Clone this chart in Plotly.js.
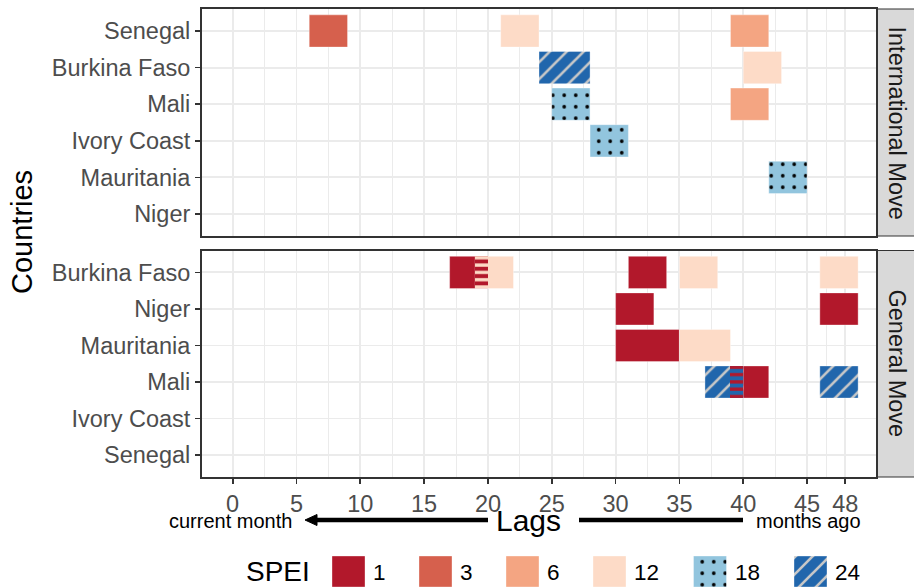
<!DOCTYPE html>
<html>
<head>
<meta charset="utf-8">
<script src="https://cdn.plot.ly/plotly-3.0.1.min.js"></script>
<style>html,body{margin:0;padding:0;background:#fff;} #chart{width:914px;height:588px;}</style>
</head>
<body>
<div id="chart"></div>
<script>
// ---------------- data ----------------
const countriesIntl = ['Senegal', 'Burkina Faso', 'Mali', 'Ivory Coast', 'Mauritania', 'Niger'];
const countriesGen  = ['Burkina Faso', 'Niger', 'Mauritania', 'Mali', 'Ivory Coast', 'Senegal'];
const panels = ['International Move', 'General Move'];

const tilePanel   = ['International Move','International Move','International Move','International Move','International Move','International Move','International Move','International Move','International Move',
                     'General Move','General Move','General Move','General Move','General Move','General Move','General Move','General Move','General Move','General Move','General Move','General Move'];
const tileCountry = ['Senegal','Senegal','Senegal','Burkina Faso','Burkina Faso','Mali','Mali','Ivory Coast','Mauritania',
                     'Burkina Faso','Burkina Faso','Burkina Faso','Burkina Faso','Burkina Faso','Niger','Niger','Mauritania','Mauritania','Mali','Mali','Mali'];
const tileSpei    = [3, 12, 6, 24, 12, 18, 6, 18, 18,
                     1, 12, 1, 12, 12, 1, 1, 1, 12, 24, 1, 24];
const tileStart   = [6, 21, 39, 24, 40, 25, 39, 28, 42,
                     17, 19, 31, 35, 46, 30, 46, 30, 35, 37, 39, 46];
const tileEnd     = [9, 24, 42, 28, 43, 28, 42, 31, 45,
                     20, 22, 34, 38, 49, 33, 49, 35, 39, 40, 42, 49];

const speiLevels = [1, 3, 6, 12, 18, 24];
const speiLabels = ['1', '3', '6', '12', '18', '24'];
const speiColors = ['#B2182B', '#D6604D', '#F4A582', '#FDDBC7', '#92C5DE', '#2166AC'];

const xTickVals = [0, 5, 10, 15, 20, 25, 30, 35, 40, 45, 48];
const xTickText = ['0', '5', '10', '15', '20', '25', '30', '35', '40', '45', '48'];
const xMinorVals = [2.5, 7.5, 12.5, 17.5, 22.5, 27.5, 32.5, 37.5, 42.5, 46.5];

// ---------------- geometry helpers ----------------
const L = 202, R = 876, T = 9, B = 588;
const fx = px => (px - L) / (R - L);
const fy = py => (B - py) / (B - T);

function patternFor(spei) {
  const c = speiColors[speiLevels.indexOf(spei)];
  if (spei === 18) return {shape: '.', fgcolor: '#000000', bgcolor: c, size: 11.5, solidity: 0.08, fillmode: 'replace'};
  if (spei === 24) return {shape: '/', fgcolor: '#C8C8C8', bgcolor: c, size: 12, solidity: 0.22, fillmode: 'replace'};
  return {shape: ''};
}

const traces = [];
const axisFor = {'International Move': ['x', 'y'], 'General Move': ['x2', 'y2']};

// main tiles grouped by panel + SPEI
panels.forEach(p => {
  speiLevels.forEach((s, si) => {
    const idx = tilePanel.map((v, i) => i).filter(i => tilePanel[i] === p && tileSpei[i] === s);
    if (!idx.length) return;
    traces.push({
      type: 'bar', orientation: 'h',
      xaxis: axisFor[p][0], yaxis: axisFor[p][1],
      y: idx.map(i => tileCountry[i]),
      base: idx.map(i => tileStart[i]),
      x: idx.map(i => tileEnd[i] - tileStart[i]),
      width: 0.88,
      marker: {color: speiColors[si], line: {color: 'rgba(255,255,255,0.35)', width: 1}, pattern: patternFor(s)},
      showlegend: false, hoverinfo: 'skip'
    });
  });
});

// overlapping regions: horizontal stripes of the left tile over the right tile
for (let i = 0; i < tileStart.length; i++) {
  for (let j = 0; j < tileStart.length; j++) {
    if (i === j) continue;
    if (tilePanel[i] !== tilePanel[j] || tileCountry[i] !== tileCountry[j]) continue;
    if (tileStart[i] < tileStart[j] && tileEnd[i] > tileStart[j] && tileSpei[i] !== tileSpei[j]) {
      const p = tilePanel[i];
      const fg = speiColors[speiLevels.indexOf(tileSpei[i])];
      const bg = speiColors[speiLevels.indexOf(tileSpei[j])];
      traces.push({
        type: 'bar', orientation: 'h',
        xaxis: axisFor[p][0], yaxis: axisFor[p][1],
        y: [tileCountry[i]], base: [tileStart[j]], x: [Math.min(tileEnd[i], tileEnd[j]) - tileStart[j]],
        width: 0.88,
        marker: {color: bg, line: {width: 0}, pattern: {shape: '-', fgcolor: fg, bgcolor: bg, size: 7.3, solidity: 0.55, fillmode: 'replace'}},
        showlegend: false, hoverinfo: 'skip'
      });
    }
  }
}

// legend keys on a hidden pixel-scaled axis
const keyW = 33;
const keyX = [];
let cur = 332;
speiLabels.forEach((lab, i) => { keyX.push(cur); cur += keyW + 8 + lab.length * 13.5 + 32.5; });
speiLevels.forEach((s, i) => {
  traces.push({
    type: 'bar', xaxis: 'x3', yaxis: 'y3',
    x: [keyX[i] + keyW / 2], y: [1], base: [0], width: keyW,
    marker: {color: speiColors[i], line: {color: 'rgba(255,255,255,0.35)', width: 1}, pattern: patternFor(s)},
    showlegend: false, hoverinfo: 'skip'
  });
});

const tickFont = {family: 'Liberation Sans, Arial, sans-serif', size: 23.5, color: '#4D4D4D'};
const grid = '#EBEBEB';
function xAxis(anchor, showLabels) {
  return {
    anchor: anchor, domain: [0, 1], range: [-2.4, 50.4],
    tickmode: 'array', tickvals: xTickVals, ticktext: xTickText,
    showticklabels: showLabels, ticks: showLabels ? 'outside' : '', ticklen: 5, tickwidth: 1.8, tickcolor: '#333333',
    tickfont: tickFont,
    showgrid: true, gridcolor: grid, gridwidth: 1.9,
    minor: {tickvals: xMinorVals, showgrid: true, gridcolor: grid, gridwidth: 1, ticks: ''},
    showline: true, mirror: true, linecolor: '#333333', linewidth: 2,
    zeroline: false, fixedrange: true
  };
}
function yAxis(anchor, dom, cats) {
  return {
    anchor: anchor, domain: dom, type: 'category',
    categoryorder: 'array', categoryarray: cats, range: [5.6, -0.6],
    ticks: 'outside', ticklen: 5, tickwidth: 1.8, tickcolor: '#333333',
    tickfont: tickFont,
    showgrid: true, gridcolor: grid, gridwidth: 1.9,
    showline: true, mirror: true, linecolor: '#333333', linewidth: 2,
    zeroline: false, fixedrange: true
  };
}

const txtFont = (size, color) => ({family: 'Liberation Sans, Arial, sans-serif', size: size, color: color || '#000000'});

const annotations = [
  {text: 'International Move', x: fx(897), y: fy(122.5), textangle: 90, font: txtFont(23.5, '#1A1A1A')},
  {text: 'General Move', x: fx(897), y: fy(363.5), textangle: 90, font: txtFont(23.5, '#1A1A1A')},
  {text: 'Countries', x: fx(22), y: fy(232), textangle: -90, font: txtFont(29)},
  {text: 'Lags', x: fx(528), y: fy(520), font: txtFont(30)},
  {text: 'current month', x: fx(294), y: fy(521), xanchor: 'right', font: txtFont(20)},
  {text: 'months ago', x: fx(754), y: fy(521), xanchor: 'left', font: txtFont(20)},
  {text: 'SPEI', x: fx(244), y: fy(571), xanchor: 'left', font: txtFont(28)}
].map(a => Object.assign({xref: 'paper', yref: 'paper', showarrow: false, xanchor: 'center', yanchor: 'middle'}, a));

speiLabels.forEach((lab, i) => {
  annotations.push({xref: 'paper', yref: 'paper', showarrow: false, text: lab,
    x: fx(keyX[i] + keyW + 6), y: fy(572), xanchor: 'left', yanchor: 'middle', font: txtFont(22.5)});
});

const shapes = [
  {type: 'rect', xref: 'paper', yref: 'paper', x0: fx(877), x1: fx(918), y0: fy(236), y1: fy(9), fillcolor: '#D9D9D9', line: {color: '#333333', width: 1.2}, layer: 'below'},
  {type: 'rect', xref: 'paper', yref: 'paper', x0: fx(877), x1: fx(918), y0: fy(477), y1: fy(250.5), fillcolor: '#D9D9D9', line: {color: '#333333', width: 1.2}, layer: 'below'},
  {type: 'line', xref: 'paper', yref: 'paper', x0: fx(488), x1: fx(314), y0: fy(520), y1: fy(520), line: {color: '#000000', width: 4.5}},
  {type: 'path', xref: 'paper', yref: 'paper', path: 'M' + fx(305) + ',' + fy(520) + ' L' + fx(317) + ',' + fy(514.5) + ' L' + fx(317) + ',' + fy(525.5) + ' Z', fillcolor: '#000000', line: {color: '#000000', width: 1}},
  {type: 'line', xref: 'paper', yref: 'paper', x0: fx(579), x1: fx(743), y0: fy(520), y1: fy(520), line: {color: '#000000', width: 4.5}}
];

const layout = {
  width: 914, height: 588,
  margin: {l: L, r: 914 - R, t: T, b: 0},
  paper_bgcolor: '#FFFFFF', plot_bgcolor: '#FFFFFF',
  barmode: 'overlay', bargap: 0,
  showlegend: false,
  xaxis: xAxis('y', false),
  yaxis: yAxis('x', [fy(236), fy(9)], countriesIntl),
  xaxis2: xAxis('y2', true),
  yaxis2: yAxis('x2', [fy(477), fy(250.5)], countriesGen),
  xaxis3: {anchor: 'y3', domain: [0, 1], range: [L, R], visible: false, fixedrange: true},
  yaxis3: {anchor: 'x3', domain: [fy(587), fy(556)], range: [0, 1], visible: false, fixedrange: true},
  annotations: annotations,
  shapes: shapes
};

Plotly.newPlot('chart', traces, layout, {staticPlot: true, displayModeBar: false});
</script>
</body>
</html>
